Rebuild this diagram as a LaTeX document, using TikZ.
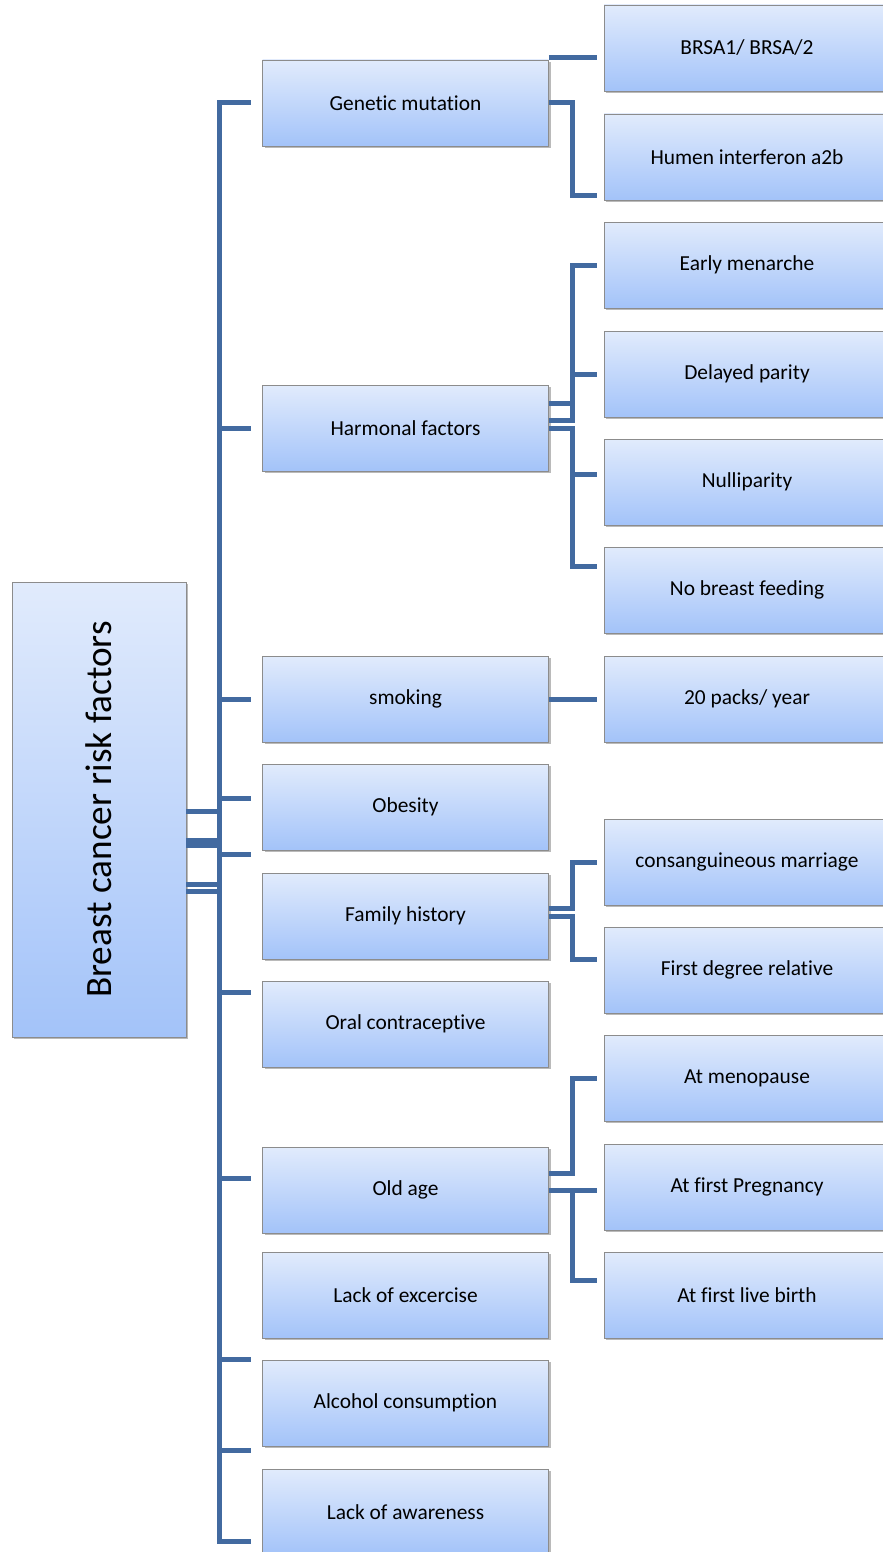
\documentclass[tikz,border=0pt]{standalone}
\usepackage{fontspec}
\setmainfont{Carlito}[Ligatures=NoCommon]
\usetikzlibrary{positioning, calc, shadows}
\definecolor{linkblue}{RGB}{66,106,160}
\definecolor{boxtop}{RGB}{225,235,252}
\definecolor{boxbottom}{RGB}{163,195,249}

\begin{document}
\begin{tikzpicture}[x=0.5pt, y=-0.5pt]
    \tikzstyle{box} = [rectangle, draw=black!45, line width=0.4pt, top color=boxtop, bottom color=boxbottom, minimum width=143pt, minimum height=43pt, inner sep=0pt, font=\fontsize{10.7}{13}\selectfont, drop shadow={shadow xshift=1pt, shadow yshift=-1.2pt, fill=black!60, opacity=0.45}]
    \tikzstyle{link} = [draw=linkblue, line width=2.5pt]

    \clip (0,0) rectangle (883,1552);

    % root
    \node[box, minimum width=87pt, minimum height=227.5pt] (root) at (99,809.5) {\fontsize{18.6}{22}\selectfont\rotatebox{90}{Breast cancer risk factors}};

    % first level
    \foreach \name/\yy/\txt in {gen/103/Genetic mutation, harm/428/Harmonal factors, smok/699/smoking, obes/807/Obesity, fam/916/Family history, oral/1024/Oral contraceptive, old/1190/Old age, exer/1295/Lack of excercise, alc/1403/Alcohol consumption, aware/1512/Lack of awareness}
        \node[box] (\name) at (405.5,\yy) {\txt};

    % second level
    \foreach \name/\yy/\txt in {brsa/48/{BRSA1/ BRSA/2}, hum/157/Humen interferon a2b, menar/265/Early menarche, delay/374/Delayed parity, nulli/482/Nulliparity, nobf/590/No breast feeding, packs/699/{20 packs/ year}, cons/862/consanguineous marriage, first/970/First degree relative, meno/1078/At menopause, preg/1187/At first Pregnancy, birth/1295/At first live birth}
        \node[box] (\name) at (747,\yy) {\txt};

    % trunk
    \foreach \kid/\ky/\ry in {gen/0/-0.75, harm/0/-0.75, smok/0/-0.75, obes/4.5/-15.25, fam/31/-0.75, oral/16/-17.75, old/6/-37.25, exer/-32/-40.75, alc/-23.5/-40.75, aware/-14.5/-40.75}
        \draw[link, shorten >=5.5pt] ([yshift=\ry pt]root.east) -- ++(16.5pt,0) |- ([yshift=\ky pt]\kid.west);

    % branches
    \draw[link, shorten >=3.5pt] ([yshift=22.5pt]gen.east) -- ([yshift=-5pt]brsa.west);
    \draw[link, shorten >=3.5pt] (gen.east) -- ++(12pt,0) |- ([yshift=-19pt]hum.west);

    \draw[link, shorten >=3.5pt] ([yshift=12.5pt]harm.east) -- ++(12pt,0) |- (menar.west);
    \draw[link, shorten >=3.5pt] ([yshift=4pt]harm.east) -- ++(12pt,0) |- (delay.west);
    \draw[link, shorten >=3.5pt] (harm.east) -- ++(12pt,0) |- ([yshift=4pt]nulli.west);
    \draw[link, shorten >=3.5pt] (harm.east) -- ++(12pt,0) |- ([yshift=12pt]nobf.west);

    \draw[link, shorten >=3.5pt] (smok.east) -- (packs.west);

    \draw[link, shorten >=3.5pt] ([yshift=4pt]fam.east) -- ++(12pt,0) |- (cons.west);
    \draw[link, shorten >=3.5pt] (fam.east) -- ++(12pt,0) |- ([yshift=5.5pt]first.west);

    \draw[link, shorten >=3.5pt] ([yshift=8.5pt]old.east) -- ++(12pt,0) |- (meno.west);
    \draw[link, shorten >=3.5pt] (old.east) -- ([yshift=-1.5pt]preg.west);
    \draw[link, shorten >=3.5pt] (old.east) -- ++(12pt,0) |- ([yshift=7.5pt]birth.west);
\end{tikzpicture}
\end{document}
